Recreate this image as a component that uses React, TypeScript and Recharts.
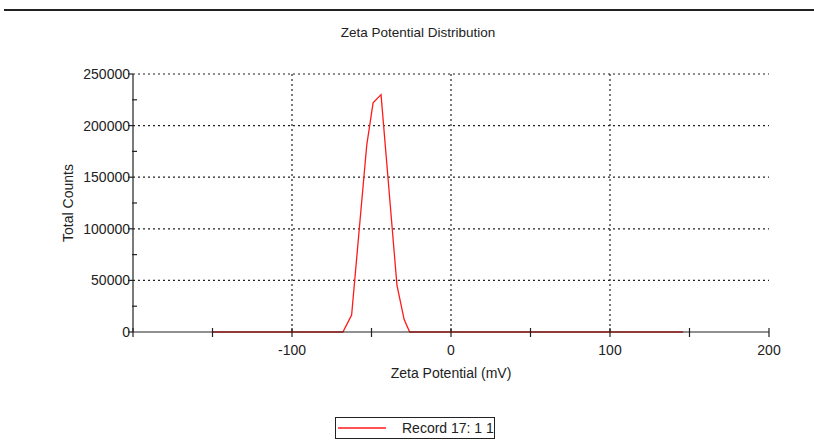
import React from "react";
import {
  LineChart, Line, XAxis, YAxis, CartesianGrid, Legend,
} from "recharts";

// Zeta potential distribution, one record
const zetaMv = [-150, -68, -62.5, -53, -49, -44, -34, -29.5, -26, 146];
const totalCounts = [0, 0, 16500, 181000, 222000, 230000, 45500, 12300, 0, 0];

const xTicks = [-200, -150, -100, -50, 0, 50, 100, 150, 200];
const xLabelled = [-100, 0, 100, 200];
const yTicks = [0, 25000, 50000, 75000, 100000, 125000, 150000, 175000, 200000, 225000, 250000];
const yGrid = [50000, 100000, 150000, 200000, 250000];
const xGrid = [-100, 0, 100];

const FONT = "'Liberation Sans', Arial, sans-serif";
const INK = "#222";
const RED = "#ff1a1a";

const data = zetaMv.map((z, i) => ({ zeta: z, counts: totalCounts[i] }));

const XTick = (props: any) => {
  const { x, y, payload } = props;
  const v = payload.value;
  return (
    <g>
      <line x1={x} x2={x} y1={y - 4} y2={y + 5} stroke={INK} strokeWidth={1.2} />
      {xLabelled.includes(v) && (
        <text x={x} y={y + 13} dy="0.71em" textAnchor="middle" fontSize={14} fontFamily={FONT} fill={INK}>
          {v}
        </text>
      )}
    </g>
  );
};

const YTick = (props: any) => {
  const { x, y, payload } = props;
  const v = payload.value;
  const major = v % 50000 === 0;
  return (
    <g>
      {major
        ? <line x1={x - 5} x2={x} y1={y} y2={y} stroke={INK} strokeWidth={1.2} />
        : <line x1={x - 1} x2={x + 4} y1={y} y2={y} stroke={INK} strokeWidth={1.2} />}
      {major && (
        <text x={x - 3} y={y} dy="0.355em" textAnchor="end" fontSize={14} fontFamily={FONT} fill={INK}>
          {v}
        </text>
      )}
    </g>
  );
};

const XTitle = (props: any) => {
  const { x, y, width } = props.viewBox;
  return (
    <text x={x + width / 2} y={y + 46} textAnchor="middle" fontSize={14} fontFamily={FONT} fill={INK}>
      Zeta Potential (mV)
    </text>
  );
};

const YTitle = (props: any) => {
  const { x, y, height } = props.viewBox;
  const cx = x - 5;
  const cy = y + height / 2;
  return (
    <text x={cx} y={cy} transform={`rotate(-90 ${cx} ${cy})`} textAnchor="middle" dy="0.355em"
      fontSize={14} fontFamily={FONT} fill={INK}>
      Total Counts
    </text>
  );
};

const RecordLegend = () => (
  <div style={{
    width: 158, height: 20, border: `1px solid ${INK}`, display: "flex", alignItems: "center",
    fontFamily: FONT, fontSize: 14, color: INK, boxSizing: "content-box",
  }}>
    <svg width={52} height={20}>
      <line x1={2} x2={50} y1={10} y2={10} stroke={RED} strokeWidth={1.5} />
    </svg>
    <span style={{ marginLeft: 14, whiteSpace: "nowrap" }}>Record 17: 1 1</span>
  </div>
);

export default function App() {
  return (
    <div style={{ position: "absolute", left: 0, top: 0, width: 814, height: 445, background: "#fff" }}>
      <div style={{ position: "absolute", left: 4, top: 9, width: 810, height: 2, background: INK }} />
      <div style={{
        position: "absolute", left: 0, top: 25, width: 836, textAlign: "center",
        fontFamily: FONT, fontSize: 13.5, color: INK,
      }}>
        Zeta Potential Distribution
      </div>
      <LineChart width={814} height={445} data={data}
        margin={{ top: 74, right: 45, bottom: 73, left: 73 }}>
        <CartesianGrid stroke={INK} strokeDasharray="2 3" strokeWidth={1.2}
          horizontalValues={yGrid} verticalValues={xGrid} />
        <XAxis dataKey="zeta" type="number" domain={[-200, 200]} ticks={xTicks}
          height={40} tickSize={0} tickMargin={0} tickLine={false} tick={<XTick />}
          axisLine={{ stroke: INK, strokeWidth: 1.2 }} interval={0} label={<XTitle />} />
        <YAxis type="number" domain={[0, 250000]} ticks={yTicks}
          width={60} tickSize={0} tickMargin={0} tickLine={false} tick={<YTick />}
          axisLine={{ stroke: INK, strokeWidth: 1.2 }} interval={0} label={<YTitle />} />
        <Legend layout="horizontal" verticalAlign="middle" align="center"
          wrapperStyle={{ left: 335, top: 417, width: 160, height: 22 }}
          content={<RecordLegend />} />
        <Line type="linear" dataKey="counts" stroke={RED} strokeWidth={1.3} dot={false}
          isAnimationActive={false} />
      </LineChart>
    </div>
  );
}
